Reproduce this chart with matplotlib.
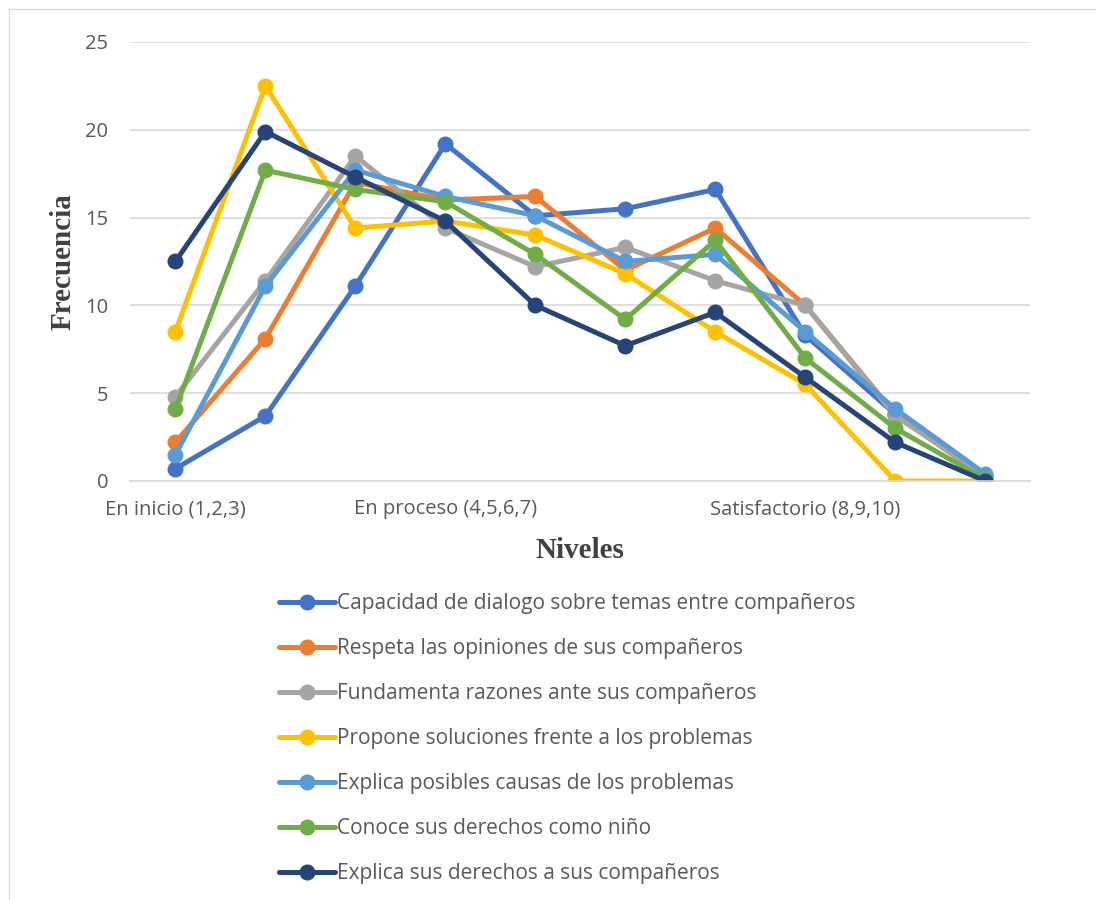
import matplotlib
matplotlib.use("Agg")
import matplotlib.pyplot as plt
from matplotlib.patches import Rectangle

# datos
posiciones = [1, 2, 3, 4, 5, 6, 7, 8, 9, 10]
etiquetas_x = ["En inicio (1,2,3)", "", "", "En proceso (4,5,6,7)", "", "", "",
               "Satisfactorio (8,9,10)", "", ""]

capacidad = [0.7, 3.7, 11.1, 19.2, 15.1, 15.5, 16.6, 8.3, 3.8, 0.3]
respeta = [2.2, 8.1, 17.0, 16.0, 16.2, 12.0, 14.4, 10.0, 3.8, 0.2]
fundamenta = [4.8, 11.4, 18.5, 14.4, 12.2, 13.3, 11.4, 10.0, 3.7, 0.3]
propone = [8.5, 22.5, 14.4, 14.8, 14.0, 11.8, 8.5, 5.5, 0.0, 0.0]
explica_causas = [1.5, 11.1, 17.7, 16.2, 15.1, 12.5, 12.9, 8.5, 4.1, 0.4]
conoce = [4.1, 17.7, 16.6, 15.9, 12.9, 9.2, 13.7, 7.0, 3.0, 0.1]
explica_derechos = [12.5, 19.9, 17.3, 14.8, 10.0, 7.7, 9.6, 5.9, 2.2, 0.0]

series = [
    ("Capacidad de dialogo sobre temas entre compañeros", capacidad, "#4472C4"),
    ("Respeta las opiniones de sus compañeros", respeta, "#ED7D31"),
    ("Fundamenta razones ante sus compañeros", fundamenta, "#A5A5A5"),
    ("Propone soluciones frente a los problemas", propone, "#FFC000"),
    ("Explica posibles causas de los problemas", explica_causas, "#5B9BD5"),
    ("Conoce sus derechos como niño", conoce, "#70AD47"),
    ("Explica sus derechos a sus compañeros", explica_derechos, "#264478"),
]

plt.rcParams["font.family"] = ["Open Sans", "DejaVu Sans"]

fig = plt.figure(figsize=(10.96, 9), dpi=100)
ax = fig.add_axes([0.119, 0.4656, 0.821, 0.4878])

for nombre, valores, color in series:
    ax.plot(posiciones, valores, color=color, linewidth=3.6, marker="o",
            markersize=10.5, label=nombre, solid_capstyle="round")

ax.set_xlim(0.5, 10.5)
ax.set_ylim(0, 25)
ax.set_yticks([0, 5, 10, 15, 20, 25])
ax.set_xticks(posiciones)
ax.set_xticklabels(etiquetas_x)
ax.tick_params(axis="both", length=0, labelsize=14.5, colors="#595959")
ax.tick_params(axis="y", pad=16)
ax.tick_params(axis="x", pad=13)
ax.grid(axis="y", color="#D9D9D9", linewidth=1.2)
ax.set_axisbelow(True)
for s in ["top", "right", "left"]:
    ax.spines[s].set_visible(False)
ax.spines["bottom"].set_color("#D9D9D9")
ax.spines["bottom"].set_linewidth(1.2)

ax.set_xlabel("Niveles", fontsize=21, fontweight="bold", family="Liberation Serif",
              color="#404040", labelpad=13)
ax.set_ylabel("Frecuencia", fontsize=21, fontweight="bold", family="Liberation Serif",
              color="#404040", labelpad=6)

leg = fig.legend(loc="upper left", bbox_to_anchor=(0.247, 0.35), frameon=False,
                 fontsize=15, labelspacing=1.15, handlelength=2.7, handletextpad=0.1,
                 labelcolor="#595959", borderaxespad=0)

# borde del grafico
fig.patches.append(Rectangle((0.008, -0.01), 1.1, 1.0, transform=fig.transFigure,
                             fill=False, edgecolor="#D9D9D9", linewidth=1))

fig.savefig("out.png", dpi=100)
